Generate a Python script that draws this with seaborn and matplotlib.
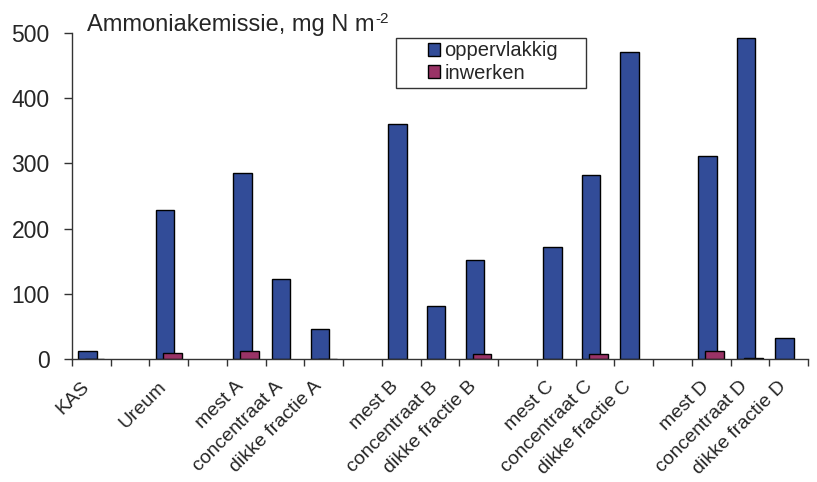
import numpy as np
import pandas as pd
import matplotlib
matplotlib.use('Agg')
import matplotlib.pyplot as plt
import matplotlib.transforms as mtransforms
from matplotlib.patches import Rectangle
import seaborn as sns

labels = ['KAS', '', 'Ureum', '', 'mest A', 'concentraat A', 'dikke fractie A', '',
          'mest B', 'concentraat B', 'dikke fractie B', '',
          'mest C', 'concentraat C', 'dikke fractie C', '',
          'mest D', 'concentraat D', 'dikke fractie D']
oppervlakkig = [13, np.nan, 228, np.nan, 285, 123, 47, np.nan, 360, 82, 152, np.nan,
                172, 282, 471, np.nan, 312, 493, 32]
inwerken = [0.5, np.nan, 9, np.nan, 12, 0, 1, np.nan, 0, 0, 8, np.nan,
            0, 8, 0, np.nan, 13, 2, 0]

data = pd.DataFrame({'pos': range(len(labels)), 'label': labels,
                     'oppervlakkig': oppervlakkig, 'inwerken': inwerken})

sns.set_style('white')
plt.rcParams['font.family'] = ['Liberation Sans', 'DejaVu Sans']

fig = plt.figure(figsize=(8.17, 4.82), dpi=100)
ax = fig.add_axes([0.088, 0.2546, 0.901, 0.677])

blue = '#324C98'
pink = '#993366'
sns.barplot(x='pos', y='oppervlakkig', data=data, native_scale=True, width=0.48,
            color=blue, edgecolor='black', linewidth=1, saturation=1, ax=ax,
            label='oppervlakkig')
n_blue = len(ax.patches)
sns.barplot(x='pos', y='inwerken', data=data, native_scale=True, width=0.48,
            color=pink, edgecolor='black', linewidth=1, saturation=1, ax=ax,
            label='inwerken')
# Excel-style overlapping series
for i, p in enumerate(ax.patches):
    p.set_x(p.get_x() + (-0.1 if i < n_blue else 0.09))
    if p.get_height() == 0:
        p.set_linewidth(0)

ax.set_xlim(-0.5, len(labels) - 0.5)
ax.set_ylim(0, 500)
ax.set_yticks([0, 100, 200, 300, 400, 500])
ax.set_xticks(data['pos'])
ax.set_xticklabels(labels, rotation=45, ha='right', rotation_mode='anchor', fontsize=14)
ax.set_xticks([i - 0.5 for i in range(len(labels) + 1)], minor=True)
ax.tick_params(axis='x', which='both', bottom=True)
ax.tick_params(axis='x', which='major', length=0, pad=12)
ax.tick_params(axis='x', which='minor', length=5, width=1, color='#333333', direction='out')
ax.tick_params(axis='y', left=True, length=6, width=1, color='#333333', direction='out',
               labelsize=16.5, pad=10)
ax.set_xlabel('')
ax.set_ylabel('')
sns.despine(ax=ax)
for s in ['left', 'bottom']:
    ax.spines[s].set_color('#333333')
    ax.spines[s].set_linewidth(1)

# legend box drawn separately to get the wide Excel padding
ax.add_patch(Rectangle((0.440, 0.832), 0.258, 0.1535, transform=ax.transAxes,
                       fill=False, edgecolor='#333333', linewidth=1, clip_on=False, zorder=5))
leg = ax.legend(loc='upper left', bbox_to_anchor=(0.4837, 0.975), fontsize=14.5, frameon=False,
                handlelength=0.62, handleheight=0.62, handletextpad=0.2, borderpad=0,
                labelspacing=0.17, borderaxespad=0)

title = fig.text(0.107, 0.935, 'Ammoniakemissie, mg N m', fontsize=17, va='baseline')
fig.canvas.draw()
bb = title.get_window_extent(fig.canvas.get_renderer())
fig.text(bb.x1 / fig.bbox.width + 0.001, 0.935 + 0.018, '-2', fontsize=11, va='baseline')

# shift rotated labels like Excel places them
offset = mtransforms.ScaledTranslation(-11 / 100, -2 / 100, fig.dpi_scale_trans)
for t in ax.get_xticklabels():
    t.set_transform(t.get_transform() + offset)

plt.savefig('out.png', dpi=100)
